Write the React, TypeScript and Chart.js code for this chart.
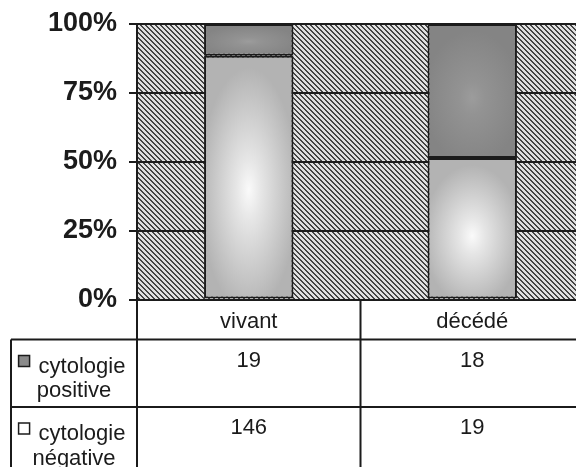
import { useEffect, useRef } from 'react';
import { Chart, registerables } from 'chart.js';

Chart.register(...registerables);

// ---- data ----
const categories = ['vivant', 'décédé'];
const positiveCounts = [19, 18];
const negativeCounts = [146, 19];
const seriesLabels = ['cytologie positive', 'cytologie négative'];
const yTickValues = [0, 25, 50, 75, 100];
const yTickLabels = ['0%', '25%', '50%', '75%', '100%'];

const negativePct = negativeCounts.map((n, i) => (n / (n + positiveCounts[i])) * 100);
const positivePct = positiveCounts.map((p, i) => (p / (p + negativeCounts[i])) * 100);

const FONT = '"Liberation Sans", Arial, sans-serif';
const INK = '#1b1b1b';
const BAR_FRACTION = 0.4;

function makeHatch(ctx: CanvasRenderingContext2D): CanvasPattern | string {
  const c = document.createElement('canvas');
  const n = 5;
  c.width = n;
  c.height = n;
  const g = c.getContext('2d');
  if (!g) return '#999';
  g.fillStyle = '#e0e0e0';
  g.fillRect(0, 0, n, n);
  g.fillStyle = '#454545';
  for (let y = 0; y < n; y++) {
    for (let x = 0; x < n; x++) {
      if ((((x - y) % n) + n) % n < 2) g.fillRect(x, y, 1, 1);
    }
  }
  return ctx.createPattern(c, 'repeat') || '#999';
}

function shadedFill(
  chart: any,
  i: number,
  lowPct: number,
  highPct: number,
  edge: string,
  mid: string,
  center: string
): any {
  const xs = chart.scales?.x;
  const ys = chart.scales?.y;
  if (!xs || !ys || !chart.width || !xs.width) return edge;
  const w = (xs.width / categories.length) * BAR_FRACTION;
  const cx = xs.getPixelForValue(i);
  const top = ys.getPixelForValue(highPct);
  const bottom = ys.getPixelForValue(lowPct);
  const h = Math.max(1, bottom - top);
  const c = document.createElement('canvas');
  c.width = chart.width;
  c.height = chart.height;
  const g = c.getContext('2d');
  if (!g) return edge;
  g.beginPath();
  g.rect(cx - w / 2, top, w, h);
  g.clip();
  g.fillStyle = edge;
  g.fillRect(cx - w / 2, top, w, h);
  const cy = top + h * 0.55;
  const rx = w * 0.55;
  const ry = h * 0.5;
  g.translate(cx, cy);
  g.scale(1, ry / rx);
  const grad = g.createRadialGradient(0, 0, 0, 0, 0, rx);
  grad.addColorStop(0, center);
  grad.addColorStop(0.25, mid);
  grad.addColorStop(1, edge);
  g.fillStyle = grad;
  g.fillRect(-rx * 3, -rx * 3, rx * 6, rx * 6);
  return chart.ctx.createPattern(c, 'no-repeat') || edge;
}

const hatchPlugin = {
  id: 'hatchBackground',
  beforeDraw(chart: any) {
    const { ctx, chartArea } = chart;
    if (!chartArea) return;
    ctx.save();
    ctx.fillStyle = makeHatch(ctx);
    ctx.fillRect(chartArea.left, chartArea.top, chartArea.right - chartArea.left, chartArea.bottom - chartArea.top);
    ctx.restore();
  },
};

const tablePlugin = {
  id: 'dataTable',
  afterDraw(chart: any) {
    const { ctx, chartArea } = chart;
    const xs = chart.scales.x;
    const colW = xs.width / categories.length;
    const left = chartArea.left;
    const top = chartArea.bottom;
    const headerBottom = top + 40;
    const rowH = 67.5;
    const tableLeft = 11;
    const right = chart.width;
    const bottom = chart.height;

    ctx.save();
    ctx.strokeStyle = INK;
    ctx.lineWidth = 2;
    ctx.beginPath();
    for (let r = 0; r < seriesLabels.length; r++) {
      const y = headerBottom + r * rowH;
      ctx.moveTo(tableLeft, y);
      ctx.lineTo(right, y);
    }
    ctx.moveTo(left, top);
    ctx.lineTo(left, bottom);
    for (let k = 1; k <= categories.length; k++) {
      const x = left + colW * k;
      ctx.moveTo(x, top);
      ctx.lineTo(x, bottom);
    }
    ctx.moveTo(tableLeft, headerBottom);
    ctx.lineTo(tableLeft, bottom);
    ctx.stroke();

    ctx.fillStyle = INK;
    ctx.font = `22px ${FONT}`;
    ctx.textAlign = 'center';
    ctx.textBaseline = 'alphabetic';
    categories.forEach((cat, i) => {
      ctx.fillText(cat, xs.getPixelForValue(i), top + 28.5);
    });

    const rows = [positiveCounts, negativeCounts];
    const keyFills = ['#8a8a8a', '#ffffff'];
    rows.forEach((vals, r) => {
      const rowTop = headerBottom + r * rowH;
      vals.forEach((v, i) => {
        ctx.textAlign = 'center';
        ctx.fillText(String(v), xs.getPixelForValue(i), rowTop + 27);
      });
      const parts = seriesLabels[r].split(' ');
      const line1 = parts[0];
      const line2 = parts.slice(1).join(' ');
      const cellCenter = (tableLeft + left) / 2 - 2;
      const keySize = 11;
      const gap = 9;
      const tw = ctx.measureText(line1).width;
      const total = keySize + gap + tw;
      const startX = cellCenter - total / 2;
      const base1 = rowTop + 33;
      ctx.fillStyle = keyFills[r];
      ctx.fillRect(startX, base1 - 17, keySize, keySize);
      ctx.lineWidth = 1.5;
      ctx.strokeRect(startX, base1 - 17, keySize, keySize);
      ctx.fillStyle = INK;
      ctx.textAlign = 'left';
      ctx.fillText(line1, startX + keySize + gap, base1);
      ctx.textAlign = 'center';
      ctx.fillText(line2, cellCenter + 2, rowTop + 57.5);
    });
    ctx.restore();
  },
};

export default function App() {
  const ref = useRef<HTMLCanvasElement>(null);

  useEffect(() => {
    if (!ref.current) return;
    const chart = new Chart(ref.current, {
      type: 'bar',
      data: {
        labels: categories,
        datasets: [
          {
            label: seriesLabels[1],
            data: negativePct,
            backgroundColor: (c: any) =>
              c.type === 'data'
                ? shadedFill(c.chart, c.dataIndex, 0, negativePct[c.dataIndex], '#b3b3b3', '#e6e6e6', '#fafafa')
                : '#cccccc',
            borderColor: INK,
            borderWidth: 2,
            borderSkipped: false,
            categoryPercentage: 1,
            barPercentage: BAR_FRACTION,
          },
          {
            label: seriesLabels[0],
            data: positivePct,
            backgroundColor: (c: any) =>
              c.type === 'data'
                ? shadedFill(
                    c.chart,
                    c.dataIndex,
                    negativePct[c.dataIndex],
                    100,
                    '#848484',
                    '#939393',
                    '#9c9c9c'
                  )
                : '#8a8a8a',
            borderColor: INK,
            borderWidth: 2,
            borderSkipped: false,
            categoryPercentage: 1,
            barPercentage: BAR_FRACTION,
          },
        ],
      },
      options: {
        animation: false,
        responsive: false,
        maintainAspectRatio: false,
        layout: { padding: { top: 24, left: 0, right: 0, bottom: 167.5 } },
        plugins: { legend: { display: false }, tooltip: { enabled: false } },
        scales: {
          x: { display: false, stacked: true },
          y: {
            stacked: true,
            min: 0,
            max: 100,
            afterBuildTicks: (scale: any) => {
              scale.ticks = yTickValues.map((v) => ({ value: v }));
            },
            afterFit: (scale: any) => {
              scale.width = 137;
              scale.paddingTop = 0;
              scale.paddingBottom = 0;
            },
            ticks: {
              padding: 12,
              color: INK,
              font: { family: FONT, size: 27, weight: 'bold' },
              callback: (v: any) => yTickLabels[yTickValues.indexOf(Number(v))] ?? '',
            },
            grid: {
              color: INK,
              lineWidth: 2,
              tickLength: 8,
              tickColor: INK,
              drawTicks: true,
            },
            border: { display: true, color: INK, width: 2 },
          },
        },
      },
      plugins: [hatchPlugin, tablePlugin],
    } as any);
    return () => chart.destroy();
  }, []);

  return (
    <div
      style={{
        position: 'fixed',
        left: 0,
        top: 0,
        width: 576,
        height: 467,
        overflow: 'hidden',
        background: '#ffffff',
      }}
    >
      <canvas ref={ref} width={584} height={467} style={{ display: 'block', width: 584, height: 467 }} />
    </div>
  );
}
